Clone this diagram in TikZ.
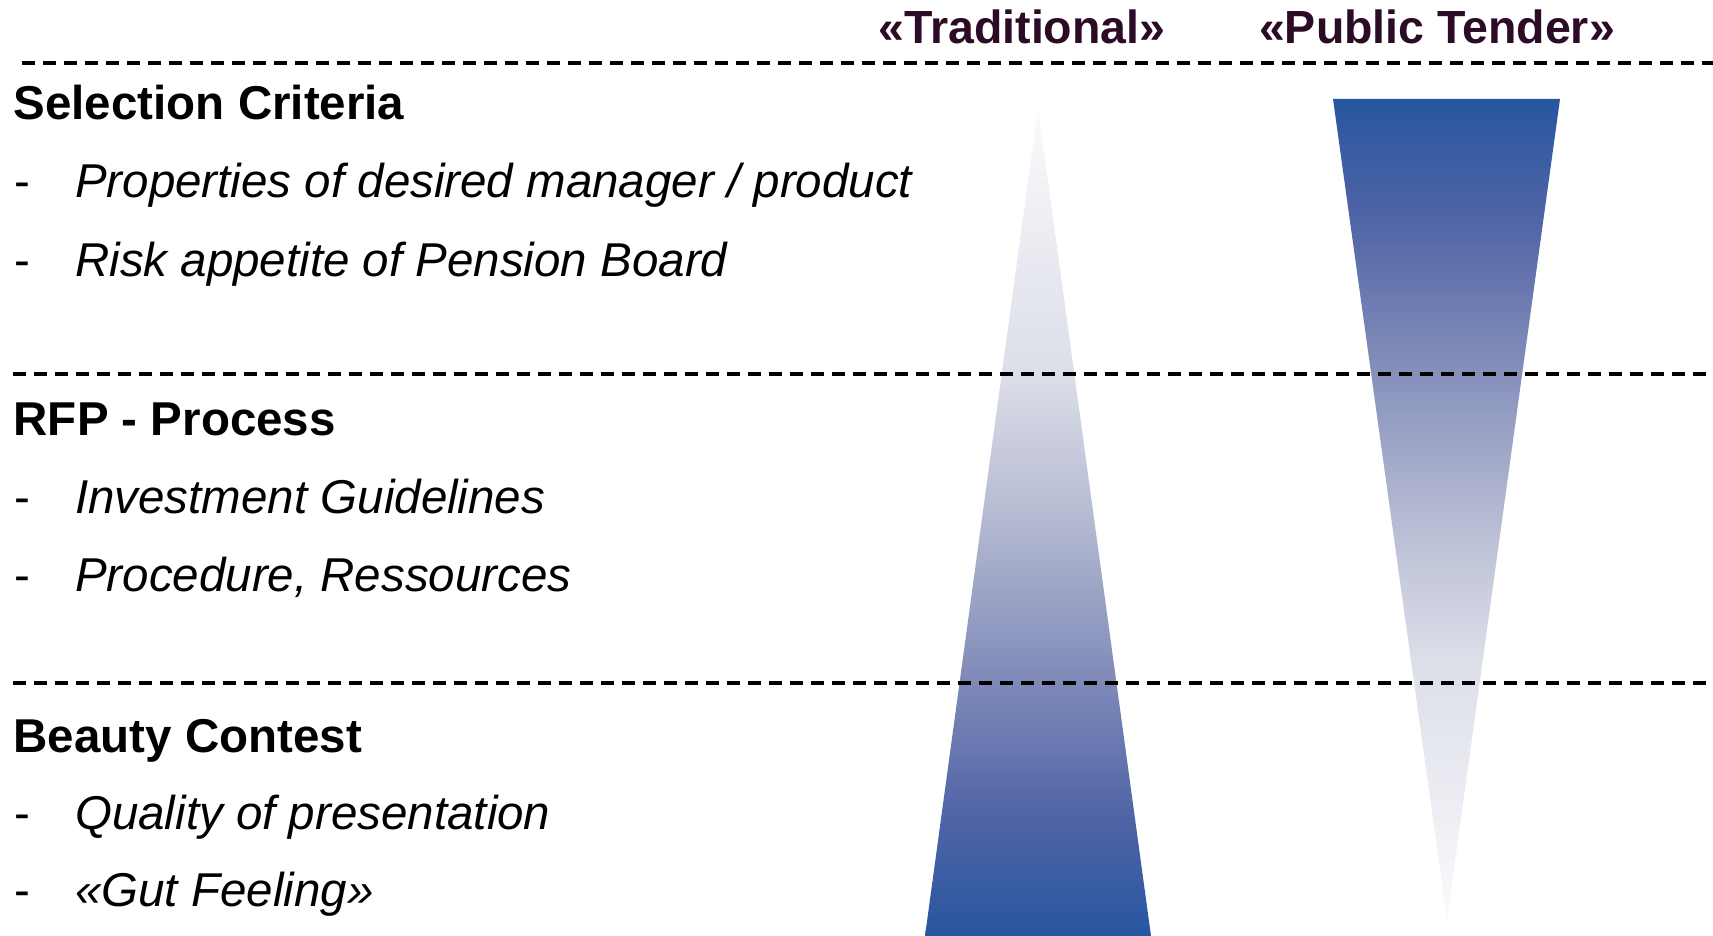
\documentclass[tikz,border=0pt]{standalone}
\usepackage{fontspec}
\setmainfont{Liberation Sans}
\usetikzlibrary{positioning}
\definecolor{viola}{HTML}{2B0B25}
\definecolor{blu}{HTML}{2756A0}
\definecolor{blu2}{HTML}{5165A6}
\definecolor{lilla}{HTML}{7F8AB8}
\definecolor{lavanda}{HTML}{B3B9D1}
\definecolor{nebbia}{HTML}{DCDEE8}
\definecolor{quasibianco}{HTML}{FAFAFC}

% sfumature dei cunei (25bp = fondo, 75bp = cima del tracciato)
\pgfdeclareverticalshading{sale}{100bp}{color(0bp)=(blu); color(25bp)=(blu);
  color(32.5bp)=(blu2); color(40.5bp)=(lilla); color(50bp)=(lavanda);
  color(59bp)=(nebbia); color(75bp)=(quasibianco); color(100bp)=(quasibianco)}
\pgfdeclareverticalshading{scende}{100bp}{color(0bp)=(quasibianco);
  color(25bp)=(quasibianco); color(41bp)=(nebbia); color(50bp)=(lavanda);
  color(59.5bp)=(lilla); color(67.5bp)=(blu2); color(75bp)=(blu); color(100bp)=(blu)}

\begin{document}
\begin{tikzpicture}[
  x=1pt, y=-1pt,
  font=\fontsize{47.5}{57}\selectfont,
  titolo/.style={font=\fontsize{46.5}{56}\selectfont\bfseries, text=viola,
                 anchor=base, inner sep=0pt},
  sezione/.style={font=\fontsize{47.5}{57}\selectfont\bfseries,
                  anchor=base west, inner sep=0pt},
  voce/.style={font=\fontsize{47.5}{57}\selectfont\itshape,
               anchor=base west, inner sep=0pt},
  trattino/.style={anchor=base west, inner sep=0pt},
  separatore/.style={draw=black, line width=3.5pt, dash pattern=on 13pt off 8pt}
]
\useasboundingbox (0,0) rectangle (1713,936);

% cunei sfumati
\path[shading=sale]
  (1038,108) -- (1151,936) -- (925,936) -- cycle;
\path[shading=scende]
  (1333,99) -- (1560,99) -- (1447,920) -- cycle;

% linee di separazione
\draw[separatore] (22,63) -- (1713,63);
\foreach \y in {374, 683}
  \draw[separatore] (13,\y) -- (1713,\y);

% intestazioni
\node[titolo] (trad) at (1022,44) {«Traditional»};
\node[titolo] (gara) at (1437,44) {«Public Tender»};

% sezioni e voci
\foreach \nome/\y/\testo in {sc/120/Selection Criteria, rfp/435/RFP - Process,
                             bc/752/Beauty Contest}
  \node[sezione] (\nome) at (13.5,\y) {\testo};

\foreach \nome/\y/\testo in {sc1/198/{Properties of desired manager / product},
                             sc2/276/{Risk appetite of Pension Board},
                             rfp1/513/{Investment Guidelines},
                             rfp2/591/{Procedure, Ressources},
                             bc1/829/{Quality of presentation},
                             bc2/906/{«Gut Feeling»}} {
  \node[trattino] (\nome-t) at (14,\y) {-};
  \node[voce] (\nome) at (75,\y) {\testo};
}

\end{tikzpicture}
\end{document}
